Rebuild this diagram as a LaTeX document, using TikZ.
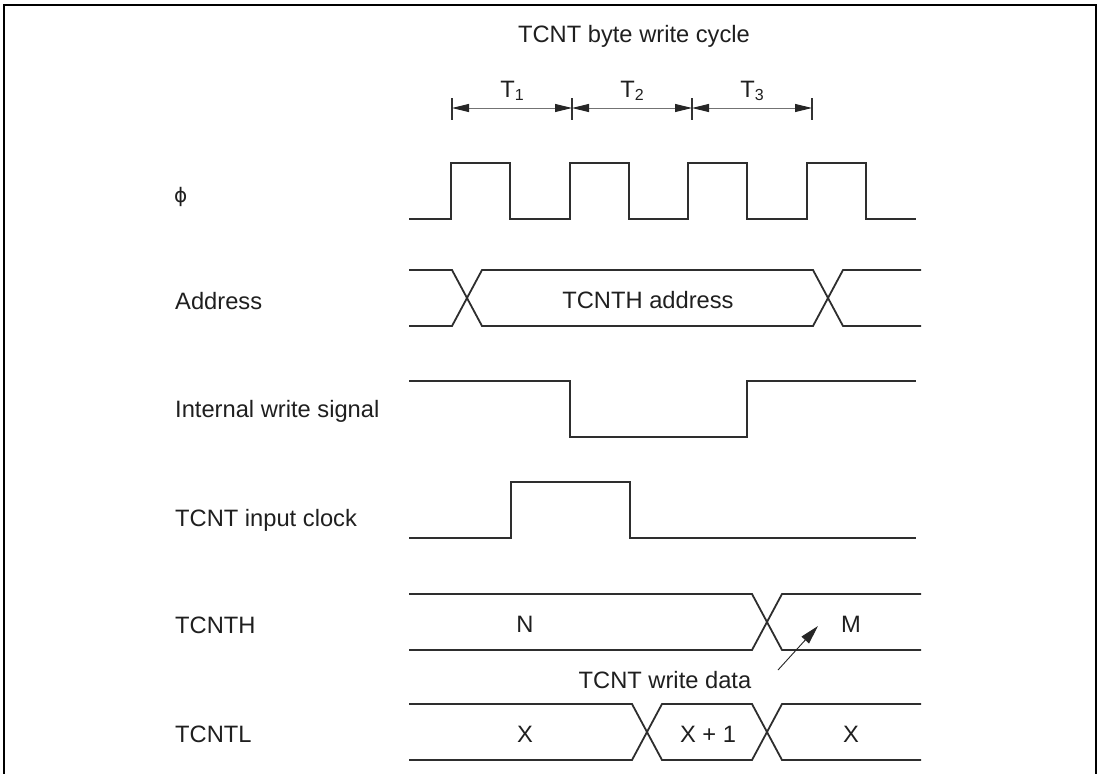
\documentclass[tikz,border=0pt]{standalone}
\usepackage{fontspec}
\setmainfont{Liberation Sans}
\newfontfamily\symfam{DejaVu Sans}
\usetikzlibrary{arrows.meta,positioning}

% small lowered index for the T states
\newcommand{\tidx}[1]{\raisebox{-3.5pt}{\fontsize{16}{16}\selectfont #1}}

\tikzset{
  sig/.style={line width=1.8pt, draw=black!82, line join=miter},
  lbl/.style={anchor=base west, inner sep=0pt, text=black!88},
  val/.style={anchor=base, inner sep=0pt, text=black!88},
  tick/.style={line width=1.4pt, draw=black!80},
  dim/.style={line width=0.9pt, draw=black!55,
    {Triangle[length=17pt,width=8pt,black!85]}-{Triangle[length=17pt,width=8pt,black!85]}},
  ptr/.style={line width=0.9pt, draw=black!85, -{Triangle[length=19pt,width=10pt]}},
}

\begin{document}
\begin{tikzpicture}[x=1pt, y=-1pt, font=\fontsize{23.7}{28}\selectfont]
    \useasboundingbox (0,0) rectangle (1101,774);

    % frame
    \draw[line width=2.7pt] (4,774) -- (4,5) -- (1096,5) -- (1096,774);

    % cycle header
    \node[val] (title) at (634,42) {TCNT byte write cycle};
    \foreach \x/\n in {452/0, 572/1, 692/2, 812/3} {
      \coordinate (t\n) at (\x,108);
      \draw[tick] (\x,98) -- (\x,120);
    }
    \draw[dim] (t0) -- (t1);
    \draw[dim] (t1) -- (t2);
    \draw[dim] (t2) -- (t3);
    \node[val] (st1) at (512,97) {T\tidx{1}};
    \node[val] (st2) at (632,97) {T\tidx{2}};
    \node[val] (st3) at (752,97) {T\tidx{3}};

    % signal names
    \node[lbl] (nphi) at (174,202) {\symfam\fontsize{20}{24}\selectfont ϕ};
    \node[lbl] (naddr) at (175,309) {Address};
    \node[lbl] (nwr) at (175,417) {Internal write signal};
    \node[lbl] (nclk) at (175,526) {TCNT input clock};
    \node[lbl] (nhi) at (175,633) {TCNTH};
    \node[lbl] (nlo) at (175,742) {TCNTL};

    % phi
    \draw[sig] (409,219) -- (451,219) -- (451,163) -- (510,163) -- (510,219)
      -- (570,219) -- (570,163) -- (629,163) -- (629,219)
      -- (688,219) -- (688,163) -- (747,163) -- (747,219)
      -- (807,219) -- (807,163) -- (866,163) -- (866,219) -- (916,219);

    % address
    \draw[sig] (409,270) -- (452,270) -- (482,326) -- (813,326) -- (843,270) -- (921,270);
    \draw[sig] (409,326) -- (452,326) -- (482,270) -- (813,270) -- (843,326) -- (921,326);
    \node[val] (vaddr) at (648,308) {TCNTH address};

    % internal write signal
    \draw[sig] (409,381) -- (570,381) -- (570,437) -- (747,437) -- (747,381) -- (916,381);

    % TCNT input clock
    \draw[sig] (409,538) -- (511,538) -- (511,482) -- (630,482) -- (630,538) -- (916,538);

    % TCNTH
    \draw[sig] (409,594) -- (752,594) -- (782,650) -- (921,650);
    \draw[sig] (409,650) -- (752,650) -- (782,594) -- (921,594);
    \node[val] (vn) at (525,632) {N};
    \node[val] (vm) at (851,632) {M};

    % write data
    \node[val] (wdata) at (665,688) {TCNT write data};
    \coordinate (wdtail) at (778,670);
    \coordinate (wdtip) at (818,626);
    \draw[ptr] (wdtail) -- (wdtip);

    % TCNTL
    \draw[sig] (409,704) -- (632,704) -- (662,760) -- (752,760) -- (782,704) -- (921,704);
    \draw[sig] (409,760) -- (632,760) -- (662,704) -- (752,704) -- (782,760) -- (921,760);
    \node[val] (vx) at (525,742) {X};
    \node[val] (vx1) at (708,742) {X + 1};
    \node[val] (vx2) at (851,742) {X};
\end{tikzpicture}
\end{document}
